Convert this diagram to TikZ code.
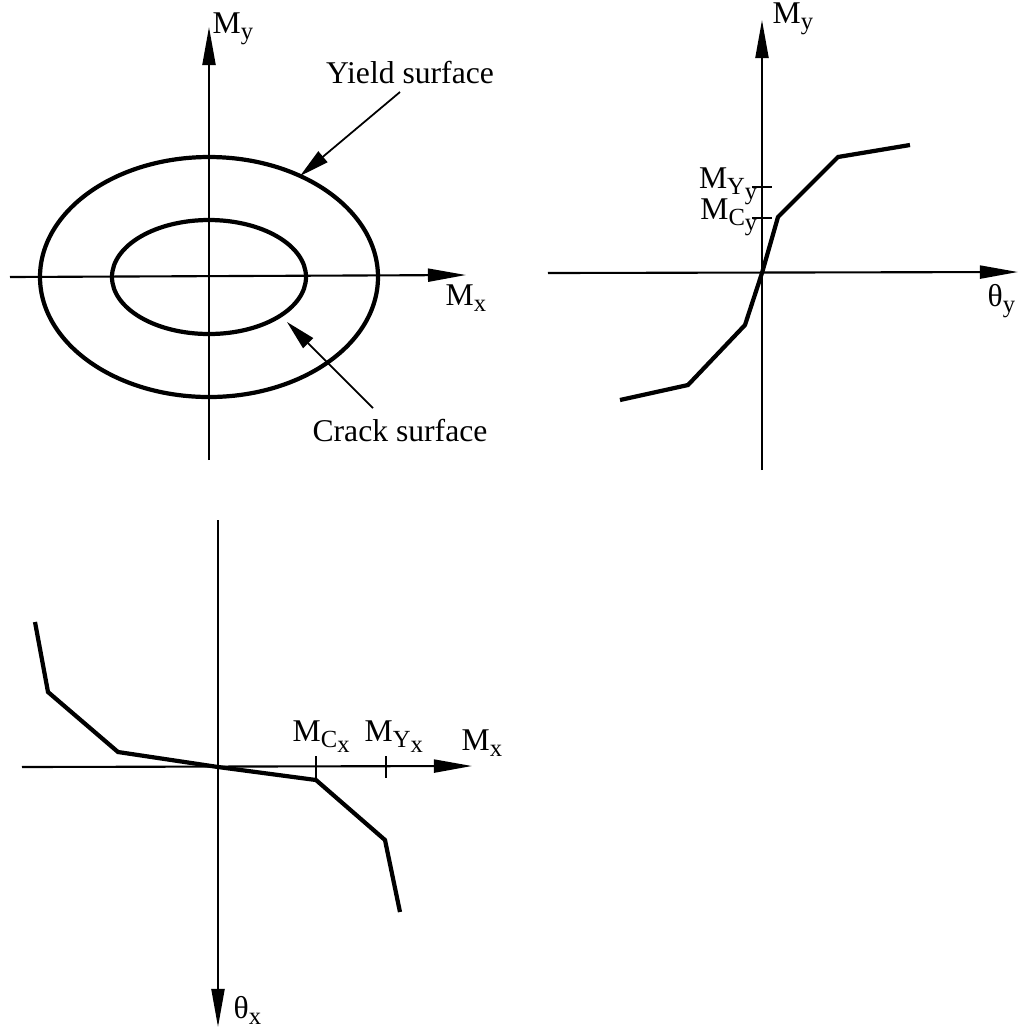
\documentclass[tikz,border=0pt]{standalone}
\usepackage{fontspec}
\setmainfont{Liberation Serif}
\usetikzlibrary{arrows.meta}
\newcommand{\lowsub}[1]{\raisebox{-0.45ex}{\fontsize{7}{8}\selectfont #1}}
\tikzset{
  axis/.style={line width=0.6pt,-{Triangle[length=3.8mm,width=1.3mm]}},
  curve/.style={line width=1.2pt,line join=miter},
  leader/.style={line width=0.5pt,-{Triangle[length=3mm,width=1.4mm]}},
  lbl/.style={font=\fontsize{9}{10}\selectfont,inner sep=0pt},
  tick/.style={line width=0.6pt}
}
\begin{document}
\begin{tikzpicture}[x=0.01cm,y=-0.01cm]
\useasboundingbox (0,0) rectangle (1032,1035);
% surfaces
\coordinate (O1) at (209,277);
\draw[axis] (10,277) -- (466,275);
\draw[axis] (209,460) -- (209,27);
\draw[curve] (O1) ellipse (169 and 120);
\draw[curve] (O1) ellipse (97 and 57);
\node[lbl,anchor=base west] (My1) at (212,33) {M\lowsub{y}};
\node[lbl,anchor=base west] (Mx1) at (445,305) {M\lowsub{x}};
\node[lbl,anchor=base] (yield) at (410,83) {Yield surface};
\node[lbl,anchor=base] (crack) at (400,441) {Crack surface};
\coordinate (ys) at (300,176);
\coordinate (cs) at (287,322);
\draw[leader] (400,92) -- (ys);
\draw[leader] (373,408) -- (cs);
% theta_y
\draw[axis] (548,273) -- (1018,272);
\draw[axis] (762,470) -- (762,20);
\draw[tick] (752,187) -- (772,187);
\draw[tick] (752,218) -- (772,218);
\node[lbl,anchor=base west] (My2) at (772,23) {M\lowsub{y}};
\node[lbl,anchor=base west] (ty) at (987,306) {θ\lowsub{y}};
\node[lbl,anchor=base east] (MYy) at (758,188) {M\lowsub{Y\lowsub{y}}};
\node[lbl,anchor=base east] (MCy) at (758,219) {M\lowsub{C\lowsub{y}}};
\draw[curve] (620,400) -- (688,385) -- (745,325) -- (762,273) -- (778,217) -- (838,157) -- (910,145);
% theta_x
\draw[axis] (22,767) -- (472,766);
\draw[axis] (218,520) -- (218,1027);
\draw[tick] (316,756) -- (316,778);
\draw[tick] (386,756) -- (386,778);
\node[lbl,anchor=base west] (MCx) at (292,741) {M\lowsub{C\lowsub{x}}};
\node[lbl,anchor=base west] (MYx) at (364,741) {M\lowsub{Y\lowsub{x}}};
\node[lbl,anchor=base west] (Mx2) at (461,750) {M\lowsub{x}};
\node[lbl,anchor=base west] (tx) at (233,1018) {θ\lowsub{x}};
\draw[curve] (35,622) -- (48,692) -- (118,752) -- (218,767) -- (316,780) -- (385,840) -- (400,912);
\end{tikzpicture}
\end{document}
